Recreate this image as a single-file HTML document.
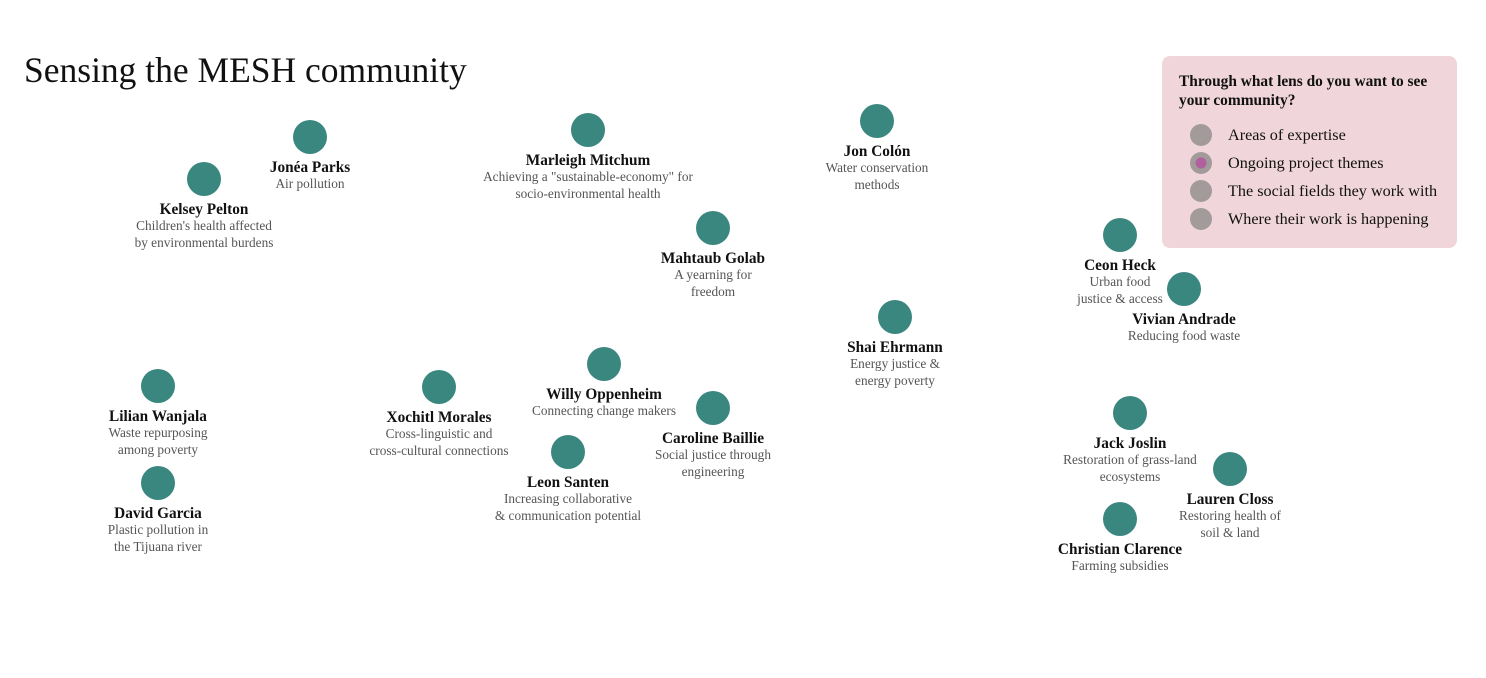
<!DOCTYPE html>
<html><head><meta charset="utf-8">
<style>
body{margin:0;background:#fff;width:1486px;height:678px;overflow:hidden;font-family:"Liberation Serif",serif;}
svg{display:block}
.nm{font-size:15.3px;fill:#111;font-weight:bold}
.ds{font-size:13.3px;fill:#555}
</style></head><body>
<svg id="chart" width="1486" height="678">
<text x="24" y="82" font-size="35.5" fill="#111">Sensing the MESH community</text>
<g>
<rect x="1162" y="56" width="295" height="192" rx="8" fill="#f0d6da"/>
<text x="1179" y="86" font-size="15.4" font-weight="bold" fill="#111">Through what lens do you want to see</text>
<text x="1179" y="105" font-size="15.4" font-weight="bold" fill="#111">your community?</text>
</g>
<g id="legend"></g>
<g id="nodes"></g>
</svg>
<script>
const names=["Jonéa Parks","Kelsey Pelton","Marleigh Mitchum","Jon Colón","Mahtaub Golab","Ceon Heck","Vivian Andrade","Shai Ehrmann","Lilian Wanjala","Xochitl Morales","Willy Oppenheim","Caroline Baillie","Leon Santen","David Garcia","Jack Joslin","Lauren Closs","Christian Clarence"];
const xs=[310,204,588,877,713,1120,1184,895,158,439,604,713,568,158,1130,1230,1120];
const ys=[137,179,130,121,228,235,289,317,386,387,364,408,452,483,413,469,519];
const descs=[["Air pollution"],["Children's health affected","by environmental burdens"],["Achieving a \"sustainable-economy\" for","socio-environmental health"],["Water conservation","methods"],["A yearning for","freedom"],["Urban food","justice & access"],["Reducing food waste"],["Energy justice &","energy poverty"],["Waste repurposing","among poverty"],["Cross-linguistic and","cross-cultural connections"],["Connecting change makers"],["Social justice through","engineering"],["Increasing collaborative","& communication potential"],["Plastic pollution in","the Tijuana river"],["Restoration of grass-land","ecosystems"],["Restoring health of","soil & land"],["Farming subsidies"]];
const lenses=["Areas of expertise","Ongoing project themes","The social fields they work with","Where their work is happening"];
const selectedLens=1;
const NS="http://www.w3.org/2000/svg";
function mk(t,a,p){const e=document.createElementNS(NS,t);for(const k in a)e.setAttribute(k,a[k]);p.appendChild(e);return e;}
const g=document.getElementById('nodes');
names.forEach((n,i)=>{
 const gg=mk('g',{},g);
 
 
 const c=mk('circle',{cx:xs[i],cy:ys[i],r:17,fill:'#3a8780'},gg);
 
 
 const t=mk('text',{x:xs[i],y:ys[i]+35,'text-anchor':'middle',class:'nm'},gg);
 t.textContent=n;
 
 
 descs[i].forEach((d,j)=>{
  const s=mk('text',{x:xs[i],y:ys[i]+51+j*17,'text-anchor':'middle',class:'ds'},gg);
  s.textContent=d;
  
  
 });
});
const lg=document.getElementById('legend');
lenses.forEach((l,i)=>{
 const y=135+i*28;
 const o=mk('g',{},lg);
 
 
 mk('circle',{cx:1201,cy:y,r:11,fill:'#a29a9b'},o);
 if(i===selectedLens) mk('circle',{cx:1201,cy:y,r:5.5,fill:'#b0609c'},o);
 const t=mk('text',{x:1228,y:y+5,'font-size':16.2,fill:'#111'},o);
 t.textContent=l;
 
 
});
</script>
</body></html>
